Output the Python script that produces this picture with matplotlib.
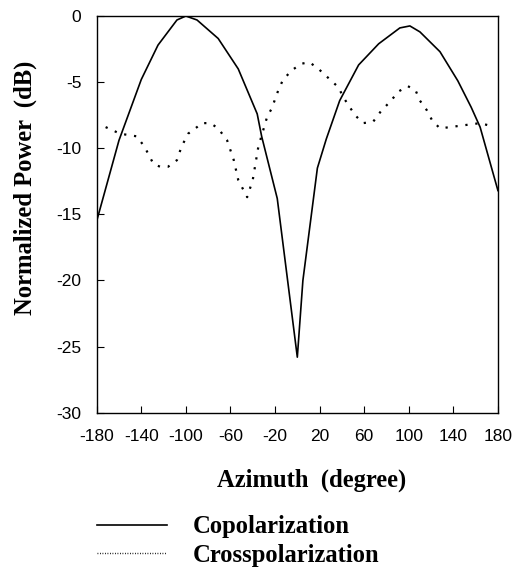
import matplotlib
matplotlib.use("Agg")
import matplotlib.pyplot as plt
import numpy as np

plt.rcParams["axes.unicode_minus"] = False

# copolarization (solid)
co_az = [-180, -160, -140, -125, -108, -100, -90, -71, -53, -36, -32, -18, 0,
         5, 18, 26, 38, 55, 73, 92, 101, 110, 128, 144, 156, 164, 180]
co_db = [-15.5, -9.4, -4.8, -2.2, -0.3, 0.0, -0.3, -1.7, -4.0, -7.4, -9.1, -13.8, -25.8,
         -20.0, -11.5, -9.3, -6.4, -3.7, -2.1, -0.9, -0.75, -1.2, -2.7, -4.9, -6.9, -8.4, -13.2]

# crosspolarization (dotted)
cx_az = [-172, -159, -144, -137, -129, -123, -116, -108, -104, -98, -90, -86, -78,
         -71, -63, -57, -53, -45, -40, -35, -27, -23, -17, -13, -5, 4, 11, 19, 28,
         37, 41, 47, 53, 59, 68, 75, 83, 91, 99, 106, 110, 116, 121, 128, 137, 146,
         155, 164, 173]
cx_db = [-8.4, -8.9, -9.1, -9.9, -11.2, -11.4, -11.4, -10.9, -9.9, -8.9, -8.4, -8.1, -8.1,
         -8.5, -9.4, -10.9, -12.4, -13.7, -12.4, -9.9, -7.6, -7.0, -5.6, -4.85, -4.1, -3.6, -3.5, -4.0, -4.7,
         -5.4, -6.1, -6.9, -7.6, -8.1, -8.0, -7.2, -6.5, -5.7, -5.3, -5.6, -6.4, -7.1, -7.9, -8.5, -8.4, -8.3,
         -8.2, -8.1, -8.3]

x_ticks = [-180, -140, -100, -60, -20, 20, 60, 100, 140, 180]
y_ticks = [0, -5, -10, -15, -20, -25, -30]

serif = {"family": "Liberation Serif", "weight": "bold", "size": 17.7}

fig = plt.figure(figsize=(5.16, 5.68), dpi=100)
ax = fig.add_axes([0.1874, 0.2734, 0.7776, 0.6984])

ax.plot(co_az, co_db, color="black", lw=1.2, label="Copolarization")
ax.plot(cx_az, cx_db, color="black", lw=1.6, linestyle=(0, (1, 3.5)), label="Crosspolarization")

ax.set_xlim(-180, 180)
ax.set_ylim(-30, 0)
ax.set_xticks(x_ticks)
ax.set_yticks(y_ticks)
ax.tick_params(direction="in", length=5, width=0.8, labelsize=12.5)
ax.tick_params(axis="x", pad=12)
ax.tick_params(axis="y", pad=11)
for lab in ax.get_xticklabels() + ax.get_yticklabels():
    lab.set_fontfamily("Liberation Sans")
for s in ax.spines.values():
    s.set_linewidth(1.0)

ax.set_xlabel("Azimuth  (degree)", fontdict=serif)
ax.set_ylabel("Normalized Power  (dB)", fontdict=serif)
ax.xaxis.set_label_coords(0.5365, -0.142)
ax.yaxis.set_label_coords(-0.15, 0.566)

leg = ax.legend(loc="upper left", bbox_to_anchor=(0.1874, 0.0928), bbox_transform=fig.transFigure,
                frameon=False, handlelength=2.85, handletextpad=1.06, labelspacing=0.23,
                borderaxespad=0, borderpad=0, prop=serif)
leg.get_lines()[1].set_linestyle((0, (0.6, 1.2)))
leg.get_lines()[1].set_linewidth(1.0)

fig.savefig("out.png", dpi=100)
